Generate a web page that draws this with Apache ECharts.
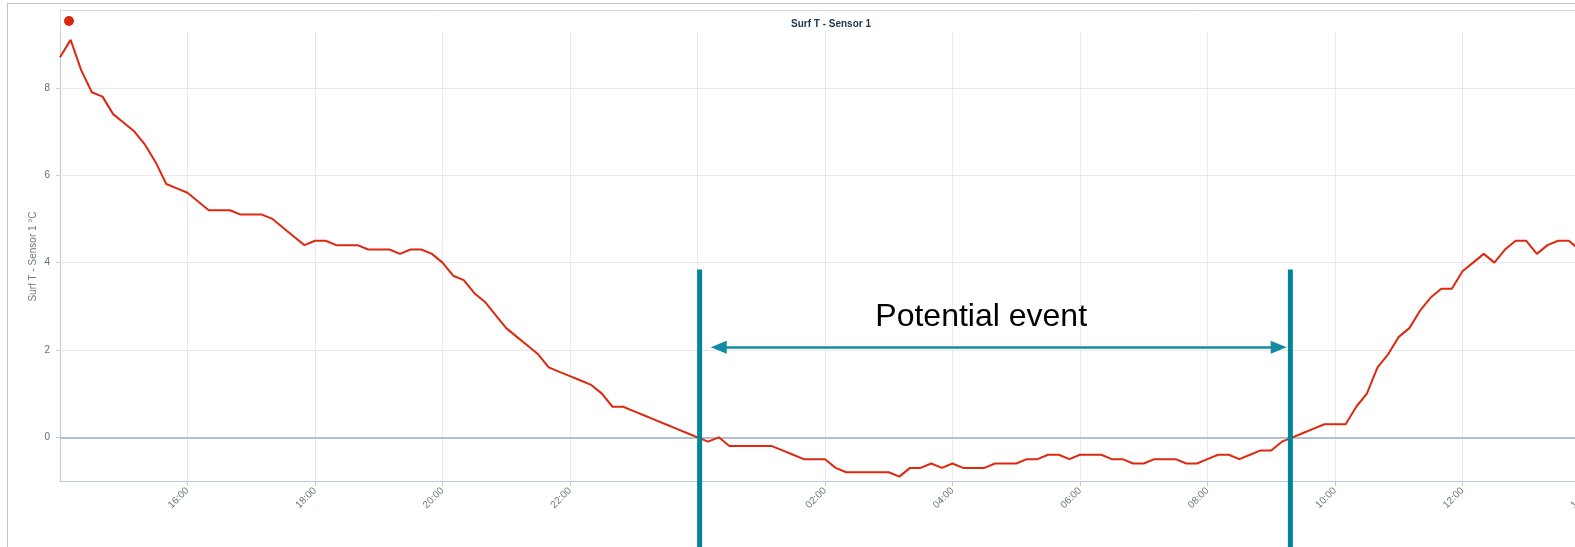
<!DOCTYPE html>
<html>
<head>
<meta charset="utf-8">
<script src="https://cdn.jsdelivr.net/npm/echarts@6/dist/echarts.min.js"></script>
<style>
html,body{margin:0;padding:0;background:#fff;}
#chart{width:1575px;height:547px;}
</style>
</head>
<body>
<div id="chart"></div>
<script>
// ---- data ----
const chartTitle = 'Surf T - Sensor 1';
const seriesName = 'Surf T - Sensor 1';
const yAxisName = 'Surf T - Sensor 1 °C';
const startClockMinutes = 14 * 60;   // series starts at 14:00
const stepMinutes = 10;              // one reading every 10 minutes
const spanMinutes = 24 * 60;         // axis spans 14:00 -> 14:00
const xTickStepMinutes = 120;
const yTickValues = [0, 2, 4, 6, 8];
const temps = [
  8.7, 9.1, 8.4, 7.9, 7.8, 7.4, 7.2, 7.0, 6.7, 6.3,
  5.8, 5.7, 5.6, 5.4, 5.2, 5.2, 5.2, 5.1, 5.1, 5.1,
  5.0, 4.8, 4.6, 4.4, 4.5, 4.5, 4.4, 4.4, 4.4, 4.3,
  4.3, 4.3, 4.2, 4.3, 4.3, 4.2, 4.0, 3.7, 3.6, 3.3,
  3.1, 2.8, 2.5, 2.3, 2.1, 1.9, 1.6, 1.5, 1.4, 1.3,
  1.2, 1.0, 0.7, 0.7, 0.6, 0.5, 0.4, 0.3, 0.2, 0.1,
  0.0, -0.1, 0.0, -0.2, -0.2, -0.2, -0.2, -0.2, -0.3, -0.4,
  -0.5, -0.5, -0.5, -0.7, -0.8, -0.8, -0.8, -0.8, -0.8, -0.9,
  -0.7, -0.7, -0.6, -0.7, -0.6, -0.7, -0.7, -0.7, -0.6, -0.6,
  -0.6, -0.5, -0.5, -0.4, -0.4, -0.5, -0.4, -0.4, -0.4, -0.5,
  -0.5, -0.6, -0.6, -0.5, -0.5, -0.5, -0.6, -0.6, -0.5, -0.4,
  -0.4, -0.5, -0.4, -0.3, -0.3, -0.1, 0.0, 0.1, 0.2, 0.3,
  0.3, 0.3, 0.7, 1.0, 1.6, 1.9, 2.3, 2.5, 2.9, 3.2,
  3.4, 3.4, 3.8, 4.0, 4.2, 4.0, 4.3, 4.5, 4.5, 4.2,
  4.4, 4.5, 4.5, 4.3
];
// event annotation (minutes after 14:00)
const eventLabel = 'Potential event';
const eventStartMinute = 602;   // ~00:02
const eventEndMinute = 1158;    // ~09:18

// ---- chart ----
const seriesData = temps.map((v, i) => [i * stepMinutes, v]);

function clockLabel(m) {
  const total = startClockMinutes + m;
  const hh = Math.floor(total / 60) % 24;
  const mm = total % 60;
  if (hh === 0 && mm === 0) return '.';
  return String(hh).padStart(2, '0') + ':' + String(mm).padStart(2, '0');
}

const TEAL = '#00859f';
const AXIS = '#bccadb';
const GRIDC = '#e9e9e9';

const gridLines = yTickValues.filter(v => v !== 0).map(v => ({
  yAxis: v, lineStyle: {color: GRIDC, width: 1, type: 'solid'}
}));
gridLines.push({yAxis: 0, lineStyle: {color: '#b0c0d1', width: 2, type: 'solid'}});

const chart = echarts.init(document.getElementById('chart'), null, {renderer: 'canvas'});
chart.setOption({
  animation: false,
  backgroundColor: '#ffffff',
  title: {
    text: chartTitle,
    left: 786, top: 14,
    textStyle: {fontFamily: 'Liberation Sans', fontSize: 10, fontWeight: 'bold', color: '#22394a'}
  },
  legend: {
    data: [seriesName],
    left: 64, top: 16, padding: 0,
    icon: 'circle', itemWidth: 10, itemHeight: 10,
    formatter: () => '',
    selectedMode: false
  },
  grid: {left: 60, top: 32, right: -15, bottom: 66, containLabel: false, outerBoundsMode: 'none'},
  xAxis: {
    type: 'value',
    min: 0, max: spanMinutes, interval: xTickStepMinutes,
    axisLine: {show: true, onZero: false, lineStyle: {color: AXIS, width: 1}},
    axisTick: {show: true, length: 5, lineStyle: {color: AXIS}},
    splitLine: {show: true, lineStyle: {color: GRIDC, width: 1}},
    axisLabel: {
      rotate: 45, margin: 8, showMinLabel: false, showMaxLabel: true, hideOverlap: false,
      fontFamily: 'Liberation Sans', fontSize: 10, color: '#66767f',
      formatter: clockLabel
    }
  },
  yAxis: {
    type: 'value',
    min: -1, max: 9.28,
    name: yAxisName,
    nameLocation: 'middle', nameRotate: 90, nameGap: 22, nameMoveOverlap: false,
    nameTextStyle: {fontFamily: 'Liberation Sans', fontSize: 10, color: '#6a7a85'},
    axisLine: {show: true, lineStyle: {color: AXIS, width: 1}},
    axisTick: {show: true, length: 4, customValues: yTickValues, lineStyle: {color: '#c6cfdb'}},
    splitLine: {show: false},
    axisLabel: {
      customValues: yTickValues, margin: 10, hideOverlap: false,
      fontFamily: 'Liberation Sans', fontSize: 10, color: '#5f6f7c',
      formatter: v => String(v)
    }
  },
  series: [
    {
      name: 'gridlines', type: 'line', data: [], z: 1, silent: true,
      markLine: {
        silent: true, z: 1, symbol: ['none', 'none'], label: {show: false},
        emphasis: {disabled: true},
        data: gridLines
      }
    },
    {
      name: seriesName, type: 'line', data: seriesData, z: 3,
      showSymbol: false, symbol: 'none',
      lineStyle: {color: '#dd2911', width: 2},
      itemStyle: {color: '#d9260f'}
    },
    {
      name: 'eventStart', type: 'line', clip: false, z: 5, silent: true,
      showSymbol: false, symbol: 'none',
      data: [[eventStartMinute, 3.84], [eventStartMinute, -2.8]],
      lineStyle: {color: TEAL, width: 5}
    },
    {
      name: 'eventEnd', type: 'line', clip: false, z: 5, silent: true,
      showSymbol: false, symbol: 'none',
      data: [[eventEndMinute, 3.84], [eventEndMinute, -2.8]],
      lineStyle: {color: TEAL, width: 5},
      markLine: {
        silent: true, z: 6,
        symbol: ['triangle', 'triangle'], symbolSize: [13, 16],
        label: {show: false},
        lineStyle: {color: '#138aa3', width: 2.5, type: 'solid'},
        itemStyle: {color: '#138aa3'},
        emphasis: {disabled: true},
        data: [[{coord: [620, 2.06]}, {coord: [1147, 2.06]}]]
      },
      markPoint: {
        silent: true, z: 6,
        symbol: 'rect', symbolSize: 1,
        itemStyle: {color: 'rgba(0,0,0,0)'},
        label: {
          show: true, position: 'inside', formatter: eventLabel,
          fontFamily: 'Liberation Sans', fontSize: 32, color: '#000'
        },
        data: [{coord: [867, 2.74]}]
      }
    }
  ],
  graphic: [
    {type: 'line', silent: true, shape: {x1: 7, y1: 3.5, x2: 1575, y2: 3.5}, style: {stroke: '#c2c2c2', lineWidth: 1}},
    {type: 'line', silent: true, shape: {x1: 7.5, y1: 3, x2: 7.5, y2: 547}, style: {stroke: '#c2c2c2', lineWidth: 1}},
    {type: 'polyline', silent: true, shape: {points: [[60.5, 32], [60.5, 10.5], [1575, 10.5]]}, style: {stroke: '#d6d6d6', lineWidth: 1, fill: null}}
  ]
});
</script>
</body>
</html>
